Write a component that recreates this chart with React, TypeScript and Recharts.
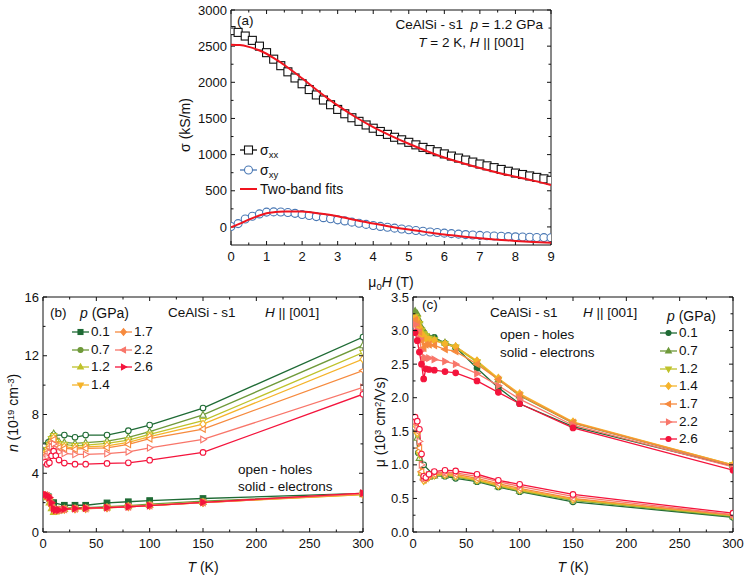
import React from "react";
import { LineChart, Line, XAxis, YAxis } from "recharts";

const FONT = '"Liberation Sans", Arial, Helvetica, sans-serif';
const INK = "#111";

// (a) conductivity vs field, CeAlSi s1, p = 1.2 GPa, T = 2 K
const FIELD = [
  0, 0.2, 0.4, 0.6, 0.8, 1.0, 1.2, 1.4, 1.6, 1.8, 2.0, 2.2, 2.4, 2.6, 2.8, 3.0,
  3.2, 3.4, 3.6, 3.8, 4.0, 4.2, 4.4, 4.6, 4.8, 5.0, 5.2, 5.4, 5.6, 5.8, 6.0, 6.2,
  6.4, 6.6, 6.8, 7.0, 7.2, 7.4, 7.6, 7.8, 8.0, 8.2, 8.4, 8.6, 8.8, 9.0,
];
const SIGMA_XX = [
  2715, 2690, 2640, 2580, 2500, 2410, 2320, 2230, 2145, 2060, 1980, 1900, 1825,
  1755, 1690, 1625, 1565, 1510, 1460, 1410, 1365, 1320, 1280, 1240, 1205, 1170,
  1135, 1100, 1070, 1040, 1010, 980, 952, 925, 897, 870, 845, 820, 795, 770, 745,
  725, 705, 685, 665, 645,
];
const SIGMA_XY = [
  5, 46, 110, 147, 180, 205, 208, 207, 200, 188, 172, 158, 143, 128, 113, 98, 83,
  66, 50, 35, 20, 7, -5, -17, -28, -40, -50, -60, -70, -78, -86, -93, -100, -106,
  -112, -117, -122, -126, -130, -134, -137, -140, -143, -146, -148, -150,
];
const FIT_FIELD = [
  0, 0.25, 0.5, 0.75, 1, 1.25, 1.5, 1.75, 2, 2.5, 3, 3.5, 4, 4.5, 5, 5.5, 6, 6.5,
  7, 7.5, 8, 8.5, 9,
];
const FIT_XX = [
  2520, 2515, 2490, 2450, 2395, 2320, 2240, 2150, 2055, 1860, 1680, 1520, 1380,
  1260, 1150, 1050, 960, 885, 815, 750, 695, 640, 580,
];
const FIT_XY = [
  -5, 45, 100, 150, 190, 205, 212, 215, 212, 185, 147, 95, 46, 3, -37, -72, -105,
  -132, -156, -176, -193, -208, -220,
];

// (b), (c) two-band fit results vs temperature
const PRESSURES = ["0.1", "0.7", "1.2", "1.4", "1.7", "2.2", "2.6"];
const COLORS = ["#1f6b35", "#6f9a3a", "#bfc22a", "#f5b32a", "#f68a3e", "#f8766a", "#f4143c"];
const SHAPES_B = ["square", "circle", "up", "down", "diamond", "left", "right"];
const SHAPES_C = ["circle", "up", "down", "diamond", "left", "right", "circle"];

const T_01 = [2, 5, 10, 20, 30, 40, 60, 80, 100, 150, 300];
const T_ALL = [2, 4, 6, 8, 10, 12, 15, 20, 30, 40, 60, 80, 100, 150, 300];

const N_HOLE_01 = [5.9, 6.1, 6.6, 6.6, 6.45, 6.6, 6.6, 6.9, 7.28, 8.44, 13.27];
const N_HOLE_07 = [5.45, 5.7, 6.1, 6.5, 6.7, 6.35, 6.15, 6.1, 6.03, 6.08, 6.19, 6.44, 6.83, 7.97, 12.7];
const N_HOLE_12 = [5.4, 5.6, 5.95, 6.35, 6.55, 6.15, 6.0, 5.96, 5.87, 5.92, 6.03, 6.26, 6.65, 7.58, 12.22];
const N_HOLE_14 = [5.3, 5.5, 5.85, 6.2, 6.4, 6.0, 5.85, 5.8, 5.73, 5.8, 5.87, 6.1, 6.49, 7.35, 11.77];
const N_HOLE_17 = [5.2, 5.4, 5.75, 6.1, 6.3, 5.9, 5.75, 5.69, 5.64, 5.69, 5.73, 5.96, 6.35, 7.01, 10.99];
const N_HOLE_22 = [5.0, 5.15, 5.4, 5.8, 6.0, 5.65, 5.45, 5.35, 5.28, 5.28, 5.33, 5.46, 5.73, 6.3, 9.85];
const N_HOLE_26 = [4.75, 4.62, 4.72, 5.2, 5.5, 5.2, 4.9, 4.69, 4.62, 4.62, 4.67, 4.71, 4.89, 5.42, 9.38];

const N_ELEC_01 = [2.5, 2.4, 2.0, 1.82, 1.82, 1.82, 1.98, 2.06, 2.14, 2.28, 2.62];
const N_ELEC_07 = [2.45, 2.4, 2.2, 1.85, 1.6, 1.55, 1.55, 1.62, 1.65, 1.65, 1.72, 1.8, 1.9, 2.1, 2.58];
const N_ELEC_12 = [2.45, 2.35, 2.0, 1.6, 1.35, 1.4, 1.45, 1.55, 1.58, 1.6, 1.66, 1.74, 1.82, 2.02, 2.55];
const N_ELEC_14 = [2.5, 2.4, 2.1, 1.7, 1.45, 1.45, 1.48, 1.53, 1.56, 1.58, 1.64, 1.72, 1.8, 2.0, 2.55];
const N_ELEC_17 = [2.5, 2.45, 2.2, 1.8, 1.5, 1.48, 1.5, 1.55, 1.57, 1.6, 1.65, 1.72, 1.8, 2.0, 2.58];
const N_ELEC_22 = [2.5, 2.45, 2.3, 1.9, 1.55, 1.5, 1.5, 1.55, 1.58, 1.6, 1.66, 1.72, 1.8, 2.0, 2.62];
const N_ELEC_26 = [2.55, 2.5, 2.35, 2.0, 1.6, 1.5, 1.5, 1.56, 1.6, 1.62, 1.66, 1.72, 1.8, 2.02, 2.65];

const MU_ELEC_01 = [3.24, 3.1, 2.97, 2.9, 2.81, 2.75, 2.44, 2.15, 1.91, 1.57, 0.98];
const MU_ELEC_07 = [3.29, 3.25, 3.15, 3.05, 3.0, 2.95, 2.9, 2.88, 2.82, 2.76, 2.54, 2.27, 2.03, 1.62, 0.99];
const MU_ELEC_12 = [3.21, 3.18, 3.1, 3.0, 2.95, 2.92, 2.88, 2.86, 2.8, 2.75, 2.53, 2.27, 2.04, 1.63, 1.0];
const MU_ELEC_14 = [3.19, 3.15, 3.05, 2.95, 2.9, 2.88, 2.86, 2.85, 2.8, 2.76, 2.55, 2.29, 2.06, 1.64, 1.0];
const MU_ELEC_17 = [3.16, 3.1, 2.98, 2.85, 2.74, 2.79, 2.79, 2.78, 2.72, 2.69, 2.5, 2.27, 2.04, 1.63, 0.99];
const MU_ELEC_22 = [3.09, 3.0, 2.88, 2.7, 2.57, 2.59, 2.59, 2.57, 2.54, 2.5, 2.36, 2.18, 1.98, 1.59, 0.97];
const MU_ELEC_26 = [2.97, 2.85, 2.68, 2.5, 2.28, 2.43, 2.42, 2.41, 2.39, 2.37, 2.25, 2.08, 1.91, 1.55, 0.92];

const MU_HOLE_01 = [1.55, 1.18, 1.0, 0.84, 0.83, 0.8, 0.75, 0.67, 0.6, 0.45, 0.22];
const MU_HOLE_07 = [1.6, 1.4, 1.1, 0.88, 0.8, 0.8, 0.82, 0.84, 0.84, 0.82, 0.76, 0.68, 0.61, 0.47, 0.23];
const MU_HOLE_12 = [1.62, 1.45, 1.15, 0.85, 0.76, 0.78, 0.82, 0.84, 0.85, 0.83, 0.77, 0.69, 0.62, 0.48, 0.24];
const MU_HOLE_14 = [1.6, 1.48, 1.2, 0.88, 0.77, 0.79, 0.83, 0.85, 0.86, 0.84, 0.78, 0.7, 0.63, 0.49, 0.25];
const MU_HOLE_17 = [1.62, 1.5, 1.25, 0.9, 0.78, 0.8, 0.84, 0.86, 0.87, 0.86, 0.8, 0.72, 0.65, 0.5, 0.25];
const MU_HOLE_22 = [1.65, 1.55, 1.35, 1.0, 0.8, 0.82, 0.85, 0.88, 0.89, 0.88, 0.83, 0.75, 0.68, 0.53, 0.26];
const MU_HOLE_26 = [1.71, 1.65, 1.53, 1.16, 0.83, 0.81, 0.86, 0.9, 0.92, 0.91, 0.86, 0.77, 0.71, 0.56, 0.28];

// axis ticks
const H_TICKS = [0, 1, 2, 3, 4, 5, 6, 7, 8, 9];
const H_MINOR = [0.5, 1.5, 2.5, 3.5, 4.5, 5.5, 6.5, 7.5, 8.5];
const SIG_TICKS = [0, 500, 1000, 1500, 2000, 2500, 3000];
const SIG_MINOR = [250, 750, 1250, 1750, 2250, 2750];
const T_TICKS = [0, 50, 100, 150, 200, 250, 300];
const T_MINOR = [25, 75, 125, 175, 225, 275];
const N_TICKS = [0, 4, 8, 12, 16];
const N_MINOR = [2, 6, 10, 14];
const MU_TICKS = [0, 0.5, 1, 1.5, 2, 2.5, 3, 3.5];
const MU_MINOR = [0.25, 0.75, 1.25, 1.75, 2.25, 2.75, 3.25];

type Pt = { x: number; v: number };
const zip = (xs: number[], vs: number[]): Pt[] => xs.map((x, i) => ({ x, v: vs[i] }));
const tempsFor = (i: number) => (i === 0 ? T_01 : T_ALL);

const nHoles = [N_HOLE_01, N_HOLE_07, N_HOLE_12, N_HOLE_14, N_HOLE_17, N_HOLE_22, N_HOLE_26].map((v, i) => zip(tempsFor(i), v));
const nElecs = [N_ELEC_01, N_ELEC_07, N_ELEC_12, N_ELEC_14, N_ELEC_17, N_ELEC_22, N_ELEC_26].map((v, i) => zip(tempsFor(i), v));
const muElecs = [MU_ELEC_01, MU_ELEC_07, MU_ELEC_12, MU_ELEC_14, MU_ELEC_17, MU_ELEC_22, MU_ELEC_26].map((v, i) => zip(tempsFor(i), v));
const muHoles = [MU_HOLE_01, MU_HOLE_07, MU_HOLE_12, MU_HOLE_14, MU_HOLE_17, MU_HOLE_22, MU_HOLE_26].map((v, i) => zip(tempsFor(i), v));

function Marker({ cx, cy, shape, color, open, r }: { cx: number; cy: number; shape: string; color: string; open: boolean; r: number }) {
  if (cx == null || cy == null || isNaN(cx) || isNaN(cy)) return null;
  const p = { fill: open ? "#fff" : color, stroke: color, strokeWidth: 1.1 };
  const pts = (a: number[][]) => a.map(([dx, dy]) => `${cx + dx * r},${cy + dy * r}`).join(" ");
  switch (shape) {
    case "square":
      return <rect x={cx - r} y={cy - r} width={2 * r} height={2 * r} {...p} />;
    case "up":
      return <polygon points={pts([[0, -1.25], [1.15, 0.8], [-1.15, 0.8]])} {...p} />;
    case "down":
      return <polygon points={pts([[0, 1.25], [1.15, -0.8], [-1.15, -0.8]])} {...p} />;
    case "left":
      return <polygon points={pts([[-1.25, 0], [0.8, -1.15], [0.8, 1.15]])} {...p} />;
    case "right":
      return <polygon points={pts([[1.25, 0], [-0.8, -1.15], [-0.8, 1.15]])} {...p} />;
    case "diamond":
      return <polygon points={pts([[0, -1.35], [1.1, 0], [0, 1.35], [-1.1, 0]])} {...p} />;
    default:
      return <circle cx={cx} cy={cy} r={r} {...p} />;
  }
}

function series(key: string, data: Pt[], color: string, shape: string, open: boolean, r = 2.8, sw = 1.3) {
  return (
    <Line
      key={key}
      data={data}
      dataKey="v"
      type="linear"
      stroke={color}
      strokeWidth={sw}
      activeDot={false}
      isAnimationActive={false}
      dot={(p: any) => <Marker key={`${key}-${p.index}`} cx={p.cx} cy={p.cy} shape={shape} color={color} open={open} r={r} />}
    />
  );
}

type Side = "bottom" | "top" | "left" | "right";

// tick renderer: draws an inward tick (long on majors, short on minors) and the label on bottom/left majors
function tickRenderer(side: Side, major: number[], fmt: (v: number) => string) {
  return (props: any) => {
    const { x, y, payload } = props;
    const v = payload.value as number;
    const isMajor = major.some((m) => Math.abs(m - v) < 1e-9);
    const len = isMajor ? 4 : 2.5;
    const d = { bottom: [0, -len], top: [0, len], left: [len, 0], right: [-len, 0] }[side];
    let label = null;
    if (isMajor && side === "bottom") {
      label = (
        <text x={x} y={y + 7} dy="0.71em" textAnchor="middle" fontSize={13} fill={INK}>
          {fmt(v)}
        </text>
      );
    } else if (isMajor && side === "left") {
      label = (
        <text x={x - 4} y={y} dy="0.355em" textAnchor="end" fontSize={13} fill={INK}>
          {fmt(v)}
        </text>
      );
    }
    return (
      <g>
        <line x1={x} y1={y} x2={x + d[0]} y2={y + d[1]} stroke={INK} strokeWidth={1} />
        {label}
      </g>
    );
  };
}

// four framed axes with inward ticks on every side
function frame(ref: Pt[], xDom: number[], yDom: number[], xT: number[], xm: number[], yT: number[], ym: number[], yWidth: number, yFmt: (v: number) => string = String) {
  const xs = [...xT, ...xm].sort((a, b) => a - b);
  const ys = [...yT, ...ym].sort((a, b) => a - b);
  const common = { type: "number" as const, allowDataOverflow: true, interval: 0 as const, tickLine: false, tickSize: 0, tickMargin: 0, stroke: INK };
  return [
    <XAxis key="x" dataKey="x" orientation="bottom" height={30} domain={xDom} ticks={xs} tick={tickRenderer("bottom", xT, String)} {...common} />,
    <YAxis key="y" orientation="left" width={yWidth} domain={yDom} ticks={ys} tick={tickRenderer("left", yT, yFmt)} {...common} />,
    <XAxis key="xt" xAxisId="top" dataKey="x" orientation="top" height={1} domain={xDom} ticks={xs} tick={tickRenderer("top", xT, String)} {...common} />,
    <YAxis key="yr" yAxisId="right" orientation="right" width={1} domain={yDom} ticks={ys} tick={tickRenderer("right", yT, yFmt)} {...common} />,
    <Line key="ghost" xAxisId="top" yAxisId="right" data={ref} dataKey="v" stroke="none" dot={false} activeDot={false} isAnimationActive={false} />,
  ];
}

const Sub = ({ children }: { children: React.ReactNode }) => (
  <span style={{ fontSize: "0.68em", position: "relative", top: "0.35em" }}>{children}</span>
);
const Sup = ({ children }: { children: React.ReactNode }) => (
  <span style={{ fontSize: "0.68em", position: "relative", top: "-0.45em" }}>{children}</span>
);
const I = ({ children }: { children: React.ReactNode }) => <span style={{ fontStyle: "italic" }}>{children}</span>;

function Txt({ x, y, children, size = 13.5, anchor = "start", rotate = false }: { x: number; y: number; children: React.ReactNode; size?: number; anchor?: string; rotate?: boolean }) {
  const tx = anchor === "start" ? "0" : anchor === "middle" ? "-50%" : "-100%";
  return (
    <div
      style={{
        position: "absolute",
        left: x,
        top: y,
        fontSize: size,
        lineHeight: 1,
        whiteSpace: "nowrap",
        transform: rotate ? "translate(-50%,-50%) rotate(-90deg)" : `translate(${tx},-50%)`,
      }}
    >
      {children}
    </div>
  );
}

function Key({ x, y, color, shape, r = 2.5, open = false }: { x: number; y: number; color: string; shape?: string; r?: number; open?: boolean }) {
  return (
    <svg width={18} height={12} style={{ position: "absolute", left: x, top: y - 6, overflow: "visible" }}>
      <line x1={0} y1={6} x2={17} y2={6} stroke={color} strokeWidth={shape ? 1.3 : 2} />
      {shape && <Marker cx={8.5} cy={6} shape={shape} color={color} open={open} r={r} />}
    </svg>
  );
}

export default function App() {
  const bRows = [332, 350, 367, 385, 332, 350, 367];
  const cRows = [333, 351, 369, 386, 404, 422, 439];
  const sxx = zip(FIELD, SIGMA_XX);
  return (
    <div style={{ position: "absolute", left: 0, top: 0, width: 747, height: 577, background: "#fff", fontFamily: FONT, color: INK }}>
      {/* (a) data */}
      <div style={{ position: "absolute", left: 150, top: 0 }}>
        <LineChart width={420} height={290} margin={{ top: 9, right: 18, bottom: 15, left: 0 }}>
          {frame(sxx, [0, 9], [-250, 3000], H_TICKS, H_MINOR, SIG_TICKS, SIG_MINOR, 81)}
          {series("sxx", sxx, "#111", "square", true, 4, 1)}
          {series("sxy", zip(FIELD, SIGMA_XY), "#4a78b4", "circle", true, 4, 1)}
        </LineChart>
      </div>
      {/* (a) two-band fits, drawn over the symbols */}
      <div style={{ position: "absolute", left: 150, top: 0 }}>
        <LineChart width={420} height={290} margin={{ top: 10, right: 19, bottom: 45, left: 81 }}>
          <XAxis hide type="number" dataKey="x" domain={[0, 9]} allowDataOverflow />
          <YAxis hide type="number" domain={[-250, 3000]} allowDataOverflow />
          <Line data={zip(FIT_FIELD, FIT_XX)} dataKey="v" type="monotone" stroke="#f0141e" strokeWidth={2} dot={false} activeDot={false} isAnimationActive={false} />
          <Line data={zip(FIT_FIELD, FIT_XY)} dataKey="v" type="monotone" stroke="#f0141e" strokeWidth={2} dot={false} activeDot={false} isAnimationActive={false} />
        </LineChart>
      </div>
      <Txt x={237} y={21}>(a)</Txt>
      <Txt x={543} y={25} anchor="end">
        CeAlSi - s1&nbsp;&nbsp;<I>p</I> = 1.2 GPa
      </Txt>
      <Txt x={524} y={43} anchor="end">
        <I>T</I> = 2 K, <I>H</I> || [001]
      </Txt>
      <Key x={240} y={150} color="#111" shape="square" r={4} open />
      <Txt x={260} y={150} size={14}>
        σ<Sub>xx</Sub>
      </Txt>
      <Key x={240} y={170} color="#4a78b4" shape="circle" r={4} open />
      <Txt x={260} y={170} size={14}>
        σ<Sub>xy</Sub>
      </Txt>
      <Key x={240} y={189} color="#f0141e" />
      <Txt x={260} y={189} size={14}>Two-band fits</Txt>
      <Txt x={185} y={125} size={14} rotate>
        σ (kS/m)
      </Txt>
      <Txt x={391} y={282} size={14} anchor="middle">
        μ<Sub>0</Sub>
        <I>H</I> (T)
      </Txt>

      {/* (b) */}
      <div style={{ position: "absolute", left: 0, top: 290 }}>
        <LineChart width={375} height={287} margin={{ top: 6, right: 11, bottom: 15, left: 0 }}>
          {frame(nHoles[6], [0, 300], [0, 16], T_TICKS, T_MINOR, N_TICKS, N_MINOR, 43)}
          {nHoles.map((d, i) => series(`nh${i}`, d, COLORS[i], SHAPES_C[i], true))}
          {nElecs.map((d, i) => series(`ne${i}`, d, COLORS[i], SHAPES_B[i], false))}
        </LineChart>
      </div>
      <Txt x={50} y={313}>(b)</Txt>
      <Txt x={80} y={313} size={14}>
        <I>p</I> (GPa)
      </Txt>
      {PRESSURES.map((p, i) => (
        <React.Fragment key={`lb${p}`}>
          <Key x={i < 4 ? 72 : 115} y={bRows[i]} color={COLORS[i]} shape={SHAPES_B[i]} />
          <Txt x={i < 4 ? 91 : 134} y={bRows[i]}>{p}</Txt>
        </React.Fragment>
      ))}
      <Txt x={168} y={313}>CeAlSi - s1</Txt>
      <Txt x={265} y={313}>
        <I>H</I> || [001]
      </Txt>
      <Txt x={238} y={470}>open - holes</Txt>
      <Txt x={238} y={487}>solid - electrons</Txt>
      <Txt x={13} y={413} size={14} rotate>
        <I>n</I> (10<Sup>19</Sup> cm<Sup>-3</Sup>)
      </Txt>
      <Txt x={203} y={567} size={14} anchor="middle">
        <I>T</I> (K)
      </Txt>

      {/* (c) */}
      <div style={{ position: "absolute", left: 375, top: 290 }}>
        <LineChart width={372} height={287} margin={{ top: 6, right: 13, bottom: 15, left: 0 }}>
          {frame(muHoles[6], [0, 300], [0, 3.5], T_TICKS, T_MINOR, MU_TICKS, MU_MINOR, 38, (v: number) => v.toFixed(1))}
          {muHoles.map((d, i) => series(`mh${i}`, d, COLORS[i], SHAPES_C[i], true))}
          {muElecs.map((d, i) => series(`me${i}`, d, COLORS[i], SHAPES_C[i], false))}
        </LineChart>
      </div>
      <Txt x={422} y={305}>(c)</Txt>
      <Txt x={490} y={313}>CeAlSi - s1</Txt>
      <Txt x={583} y={313}>
        <I>H</I> || [001]
      </Txt>
      <Txt x={500} y={335}>open - holes</Txt>
      <Txt x={500} y={353}>solid - electrons</Txt>
      <Txt x={667} y={316} size={14}>
        <I>p</I> (GPa)
      </Txt>
      {PRESSURES.map((p, i) => (
        <React.Fragment key={`lc${p}`}>
          <Key x={660} y={cRows[i]} color={COLORS[i]} shape={SHAPES_C[i]} />
          <Txt x={679} y={cRows[i]}>{p}</Txt>
        </React.Fragment>
      ))}
      <Txt x={380} y={422} size={14} rotate>
        μ (10<Sup>3</Sup> cm<Sup>2</Sup>/Vs)
      </Txt>
      <Txt x={573} y={567} size={14} anchor="middle">
        <I>T</I> (K)
      </Txt>
    </div>
  );
}
